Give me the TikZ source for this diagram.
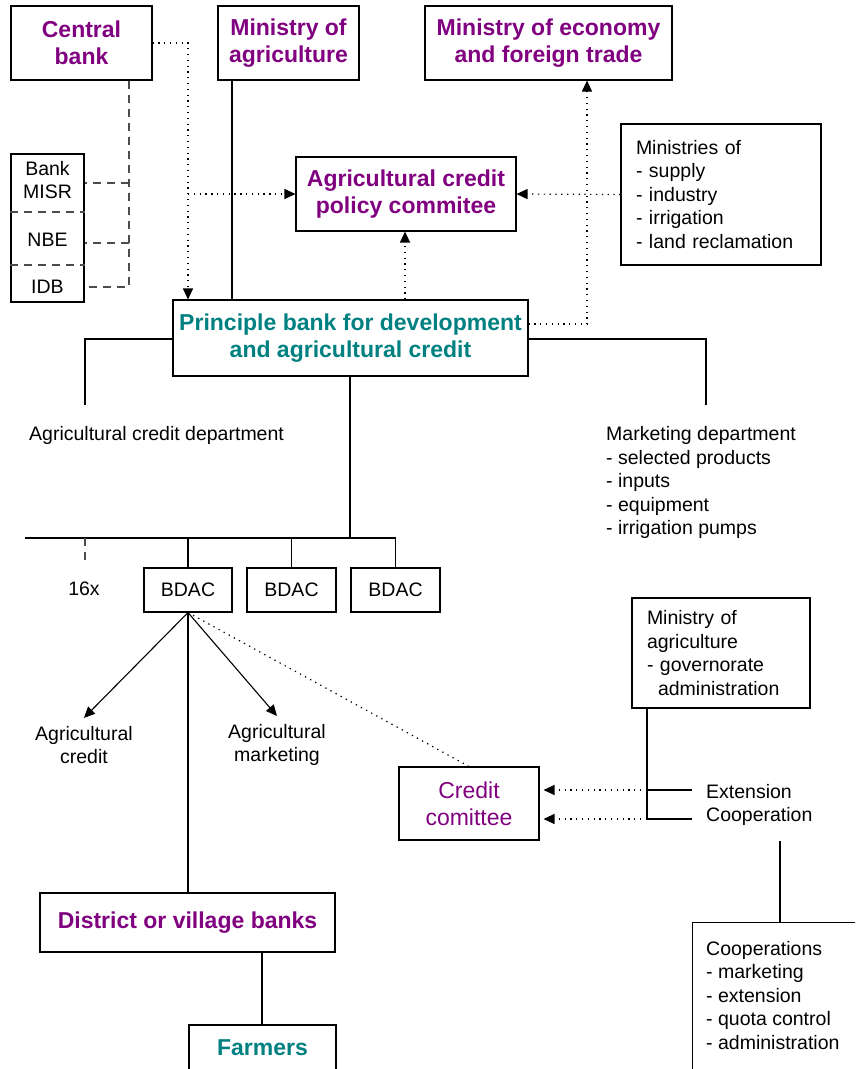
\documentclass[tikz,border=0pt]{standalone}
\usepackage{fontspec}
\setmainfont{Liberation Sans}
\usetikzlibrary{arrows.meta,calc}
\definecolor{plum}{HTML}{800080}
\definecolor{sea}{HTML}{008080}

\begin{document}
\begin{tikzpicture}[x=1pt,y=-1pt,
  box/.style={draw,line width=1.1pt,rectangle,inner sep=0pt,align=center},
  title/.style={font=\fontsize{23}{27}\selectfont\bfseries,text=plum},
  bank/.style={font=\fontsize{23}{27}\selectfont\bfseries,text=sea},
  txt/.style={font=\fontsize{19.5}{23.5}\selectfont,align=center},
  wire/.style={line width=1.1pt},
  dots/.style={line width=1.2pt,dash pattern=on 1.3pt off 4.5pt},
  dashline/.style={line width=1.1pt,black!70,dash pattern=on 8pt off 6pt},
  tip/.style={-{Triangle[length=11pt,width=10pt]}}
]
\useasboundingbox (0,0) rectangle (855,1069);
\clip (0,0) rectangle (855,1069);

% top row of institutions
\node[box,title,minimum width=141pt,minimum height=74pt] (cb) at (81.5,43) {Central\\bank};
\node[box,title,minimum width=141pt,minimum height=74pt] (moa) at (288.5,43) {Ministry of\\agriculture};
\node[box,title,minimum width=247pt,minimum height=74pt] (moe) at (548.5,43) {Ministry of economy\\and foreign trade};

% policy committee and other ministries
\node[box,title,minimum width=220pt,minimum height=74pt] (acpc) at (406,194) {Agricultural credit\\policy commitee};
\node[box,txt,align=left,text width=170pt,inner xsep=15pt,minimum height=141pt] (mins) at (721,194.5)
  {Ministries of\\- supply\\- industry\\- irrigation\\- land reclamation};

% commercial banks stack
\node[box,minimum width=73pt,minimum height=148pt] (stack) at (47.5,228) {};
\node[txt] (misr) at (47.5,180) {Bank\\MISR};
\node[txt] (nbe) at (47.5,240) {NBE};
\node[txt] (idb) at (47.5,287) {IDB};
\draw[dashline] (stack.west |- 0,212) -- (stack.east |- 0,212);
\draw[dashline] (stack.west |- 0,265) -- (stack.east |- 0,265);

% principal bank
\node[box,bank,minimum width=355pt,minimum height=76pt] (pb) at (350.5,338)
  {Principle bank for development\\and agricultural credit};

% departments
\node[txt,anchor=west,inner sep=0pt] (acd) at (29,435) {Agricultural credit department};
\node[txt,align=left,anchor=west,inner sep=0pt] (mkd) at (606,482.5)
  {Marketing department\\- selected products\\- inputs\\- equipment\\- irrigation pumps};

% regional banks
\node[txt] (n16) at (84,589) {16x};
\node[box,txt,minimum width=88pt,minimum height=44pt] (b1) at (188,590) {BDAC};
\node[box,txt,minimum width=89pt,minimum height=44pt] (b2) at (291.5,590) {BDAC};
\node[box,txt,minimum width=89pt,minimum height=44pt] (b3) at (395.5,590) {BDAC};

\node[txt,inner sep=8pt] (agc) at (84,745) {Agricultural\\credit};
\node[txt,inner sep=8pt] (agm) at (277,745) {Agricultural\\marketing};

\node[box,font=\fontsize{23}{27}\selectfont,text=plum,minimum width=140pt,minimum height=73pt] (cc) at (469,803.5) {Credit\\comittee};

% local ministry side
\node[box,txt,align=left,text width=148pt,inner xsep=15pt,minimum height=110pt] (moa2) at (721,653)
  {Ministry of\\agriculture\\- governorate\\\hspace*{11pt}administration};
\node[txt,anchor=west,inner sep=0pt] (ext) at (706,792) {Extension};
\node[txt,anchor=west,inner sep=0pt] (coop) at (706,816) {Cooperation};

\node[box,minimum width=180pt,minimum height=170pt,anchor=north west] (coopbox) at (692,922) {};
\node[txt,align=left,anchor=west,inner sep=0pt] (cooptext) at (706,995.5)
  {Cooperations\\- marketing\\- extension\\- quota control\\- administration};

% local level
\node[box,title,minimum width=295pt,minimum height=59pt] (dvb) at (187.5,922.5) {District or village banks};
\node[box,bank,minimum width=147pt,minimum height=46pt] (farm) at (262.5,1048) {Farmers};

% central bank supervision of commercial banks
\coordinate (cbx) at (129,0);
\draw[dashline] (cb.south -| cbx) -- (129,287) -- (stack.east |- 0,287);
\draw[dashline] (129,183) -- (stack.east |- 0,183);
\draw[dashline] (129,243) -- (stack.east |- 0,243);

% information flows
\coordinate (dx) at (188,0);
\draw[dots,tip] (cb.east) -- (cb.east -| dx) -- (dx |- pb.north);
\draw[dots,tip] (188,194) -- (acpc.west);
\draw[dots,tip] (pb.north -| 405,0) -- (acpc.south -| 405,0);
\draw[dots,tip] (pb.east |- 0,324) -- (587,324) -- (moe.south -| 587,0);
\draw[dots,tip] (mins.west) -- (acpc.east);

% hierarchy
\draw[wire] (moa.south -| 232,0) -- (pb.north -| 232,0);
\draw[wire] (pb.west |- 0,339) -- (85,339) -- (85,405);
\draw[wire] (pb.east |- 0,339) -- (706,339) -- (706,405);
\draw[line width=2pt] (pb.south -| 350,0) -- (350,538);
\draw[wire] (25,538) -- (396,538);
\draw[dashline] (85,538) -- (85,562);
\draw[wire] (b1.north) -- (b1.north |- 0,538);
\draw[wire] (b2.north) -- (b2.north |- 0,538);
\draw[wire] (b3.north) -- (b3.north |- 0,538);

\draw[wire,tip] (b1.south) -- (agc.north);
\draw[wire,tip] (b1.south) -- (agm.north);
\draw[dots] (b1.south) -- (cc.north);
\draw[wire] (b1.south) -- (b1.south |- dvb.north);
\draw[wire] (dvb.south -| 262,0) -- (farm.north -| 262,0);

% local ministry links
\draw[wire] (moa2.south -| 647,0) -- (647,819) -- (692,819);
\draw[wire] (647,790) -- (692,790);
\draw[dots,tip,shorten >=4pt] (647,790) -- (cc.east |- 0,790);
\draw[dots,tip,shorten >=4pt] (647,819) -- (cc.east |- 0,819);
\draw[wire] (780,841) -- (coopbox.north -| 780,0);
\end{tikzpicture}
\end{document}
